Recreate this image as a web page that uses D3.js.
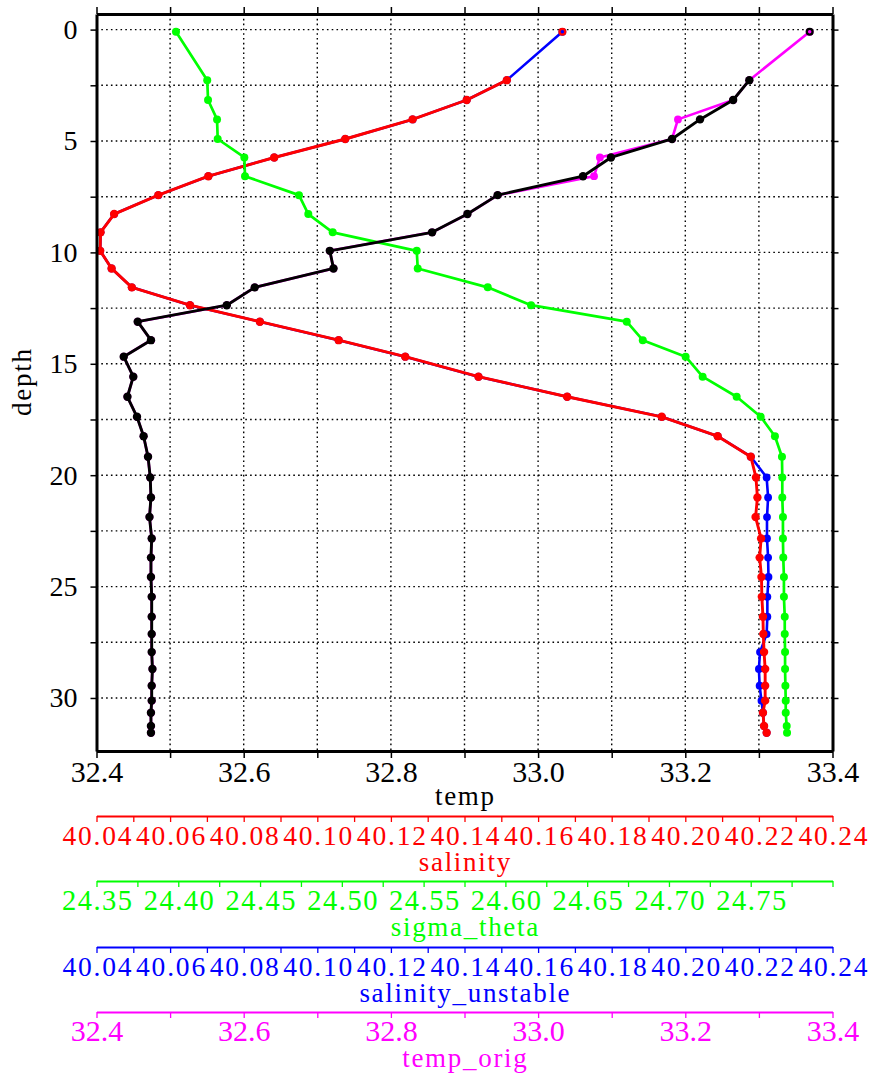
<!DOCTYPE html>
<html>
<head>
<meta charset="utf-8">
<script src="https://cdn.jsdelivr.net/npm/d3@7"></script>
<style>
  html, body { margin: 0; padding: 0; background: #fff; }
  svg { display: block; }
</style>
</head>
<body>
<div id="chart"></div>
<script>
// ---------------- data ----------------
const depth = [0.1, 2.27, 3.16, 4.03, 4.91, 5.74, 6.58, 7.43, 8.28, 9.1,
  9.93, 10.72, 11.57, 12.37, 13.11, 13.94, 14.68, 15.58, 16.48, 17.38,
  18.25, 19.17, 20.1, 21.0, 21.88, 22.84, 23.7, 24.57, 25.46, 26.35,
  27.13, 27.94, 28.7, 29.45, 30.12, 30.66, 31.26, 31.56];

const temp = [33.369, 33.287, 33.265, 33.220, 33.182, 33.099, 33.061, 32.945, 32.904, 32.856,
  32.717, 32.722, 32.615, 32.577, 32.456, 32.474, 32.437, 32.450, 32.442, 32.455,
  32.464, 32.470, 32.473, 32.474, 32.472, 32.475, 32.474, 32.474, 32.475, 32.475,
  32.475, 32.475, 32.476, 32.475, 32.475, 32.474, 32.474, 32.474];

const tempOrig = [33.369, 33.287, 33.265, 33.190, 33.182, 33.084, 33.076, 32.945, 32.904, 32.856,
  32.717, 32.722, 32.615, 32.577, 32.456, 32.474, 32.437, 32.450, 32.442, 32.455,
  32.464, 32.470, 32.473, 32.474, 32.472, 32.475, 32.474, 32.474, 32.475, 32.475,
  32.475, 32.475, 32.476, 32.475, 32.475, 32.474, 32.474, 32.474];

const salinity = [40.1666, 40.1515, 40.1406, 40.1259, 40.1076, 40.0883, 40.0704, 40.0568, 40.0448, 40.0411,
  40.0410, 40.0441, 40.0496, 40.0654, 40.0844, 40.1058, 40.1239, 40.1438, 40.1679, 40.1936,
  40.2088, 40.2178, 40.2192, 40.2196, 40.2191, 40.2206, 40.2202, 40.2207, 40.2208, 40.2211,
  40.2212, 40.2214, 40.2217, 40.2217, 40.2217, 40.2211, 40.2214, 40.2221];

const salinityUnstable = [40.1666, 40.1515, 40.1406, 40.1259, 40.1076, 40.0883, 40.0704, 40.0568, 40.0448, 40.0411,
  40.0410, 40.0441, 40.0496, 40.0654, 40.0844, 40.1058, 40.1239, 40.1438, 40.1679, 40.1936,
  40.2088, 40.2178, 40.2221, 40.2225, 40.2222, 40.2222, 40.2225, 40.2226, 40.2223, 40.2223,
  40.2221, 40.2203, 40.2200, 40.2202, 40.2207, 40.2211, 40.2214, 40.2221];

const sigmaTheta = [24.3986, 24.4177, 24.4182, 24.4237, 24.4241, 24.4404, 24.4408, 24.4738, 24.4795, 24.4944,
  24.5458, 24.5464, 24.5892, 24.6157, 24.6742, 24.6840, 24.7102, 24.7206, 24.7414, 24.7561,
  24.7648, 24.7691, 24.7693, 24.7693, 24.7697, 24.7697, 24.7699, 24.7703, 24.7703, 24.7708,
  24.7708, 24.7710, 24.7710, 24.7712, 24.7714, 24.7714, 24.7720, 24.7722];

// tick values and labels
const depthTicks  = [0, 2.5, 5, 7.5, 10, 12.5, 15, 17.5, 20, 22.5, 25, 27.5, 30];
const depthLabels = ["0", "", "5", "", "10", "", "15", "", "20", "", "25", "", "30"];
const tempTicks   = [32.4, 32.5, 32.6, 32.7, 32.8, 32.9, 33.0, 33.1, 33.2, 33.3, 33.4];
const tempLabels  = ["32.4", "", "32.6", "", "32.8", "", "33.0", "", "33.2", "", "33.4"];
const salTicks    = [40.04, 40.05, 40.06, 40.07, 40.08, 40.09, 40.10, 40.11, 40.12, 40.13, 40.14,
  40.15, 40.16, 40.17, 40.18, 40.19, 40.20, 40.21, 40.22, 40.23, 40.24];
const salLabels   = ["40.04", "", "40.06", "", "40.08", "", "40.10", "", "40.12", "", "40.14",
  "", "40.16", "", "40.18", "", "40.20", "", "40.22", "", "40.24"];
const sigmaTicks  = [24.35, 24.375, 24.40, 24.425, 24.45, 24.475, 24.50, 24.525, 24.55, 24.575,
  24.60, 24.625, 24.65, 24.675, 24.70, 24.725, 24.75, 24.775, 24.80];
const sigmaLabels = ["24.35", "", "24.40", "", "24.45", "", "24.50", "", "24.55", "",
  "24.60", "", "24.65", "", "24.70", "", "24.75", "", ""];

// ---------------- layout ----------------
const W = 869, H = 1074;
const FONT = "'Liberation Serif', 'DejaVu Serif', serif";
const FS = 30;

const svg = d3.select("#chart").append("svg")
  .attr("width", W).attr("height", H);

const xLeft = 96.5, xRight = 832.5, yTop = 14, yBottom = 751;

const xTemp  = d3.scaleLinear().domain([32.4, 33.4]).range([xLeft, xRight]);
const xSal   = d3.scaleLinear().domain([40.04, 40.24]).range([xLeft, xRight]);
const xSigma = d3.scaleLinear().domain([24.35, 24.80]).range([xLeft, xRight]);
const y      = d3.scaleLinear().domain([-0.7, 32.38]).range([yTop, yBottom]);

// gridlines
const grid = svg.append("g");
grid.selectAll("line.v").data(tempTicks.slice(1, -1)).join("line")
  .attr("x1", d => xTemp(d)).attr("x2", d => xTemp(d))
  .attr("y1", yTop).attr("y2", yBottom)
  .attr("stroke", "#000").attr("stroke-width", 1.4)
  .attr("stroke-dasharray", "1.6,3.2");
grid.selectAll("line.h").data(depthTicks).join("line")
  .attr("x1", xLeft).attr("x2", xRight)
  .attr("y1", d => y(d)).attr("y2", d => y(d))
  .attr("stroke", "#000").attr("stroke-width", 1.4)
  .attr("stroke-dasharray", "1.6,3.2");

// ---------------- series ----------------
function drawSeries(xs, vals, color, startAt, lw, r) {
  const pts = vals.map((v, i) => ({ x: xs(v), y: y(depth[i]), i }));
  const line = d3.line().x(d => d.x).y(d => d.y).defined(d => d.i >= startAt);
  const g = svg.append("g");
  g.append("path").datum(pts)
    .attr("d", line)
    .attr("fill", "none").attr("stroke", color)
    .attr("stroke-width", lw).attr("stroke-linejoin", "round");
  g.selectAll("circle.pt").data(pts.filter(d => d.i >= startAt)).join("circle")
    .attr("cx", d => d.x).attr("cy", d => d.y).attr("r", r)
    .attr("fill", color);
  // isolated first point drawn as a ring
  g.selectAll("circle.ring").data(pts.filter(d => d.i < startAt)).join("circle")
    .attr("cx", d => d.x).attr("cy", d => d.y).attr("r", 2.9)
    .attr("fill", "none").attr("stroke", color).attr("stroke-width", 2.3);
}

drawSeries(xSal, salinityUnstable, "#0000ff", 0, 2.6, 3.9);
drawSeries(xTemp, tempOrig, "#ff00ff", 0, 2.6, 3.9);
drawSeries(xSal, salinity, "#ff0000", 1, 2.9, 4.2);
drawSeries(xSigma, sigmaTheta, "#00ff00", 0, 2.7, 4.0);
drawSeries(xTemp, temp, "#000000", 1, 2.9, 4.2);

// ---------------- axes ----------------
function styleAxis(g, color, lineW, tickW, fs, ls) {
  g.attr("font-family", FONT).attr("font-size", fs || FS);
  g.select(".domain").attr("stroke", color).attr("stroke-width", lineW);
  g.selectAll(".tick line").attr("stroke", color).attr("stroke-width", tickW);
  g.selectAll(".tick text").attr("fill", color);
  if (ls) g.selectAll(".tick text").attr("letter-spacing", ls).attr("dx", ls / 2);
}

// left
const gLeft = svg.append("g").attr("transform", `translate(${xLeft},0)`)
  .call(d3.axisLeft(y).tickValues(depthTicks).tickSize(6).tickSizeOuter(0).tickPadding(13)
    .tickFormat((d, i) => depthLabels[i]));
styleAxis(gLeft, "#000", 3, 1.5, 28);

// right
const gRight = svg.append("g").attr("transform", `translate(${xRight},0)`)
  .call(d3.axisRight(y).tickValues(depthTicks).tickSize(6).tickSizeOuter(0).tickFormat(""));
styleAxis(gRight, "#000", 3, 1.5);

// top
const gTop = svg.append("g").attr("transform", `translate(0,${yTop})`)
  .call(d3.axisTop(xTemp).tickValues(tempTicks).tickSize(7).tickSizeOuter(0).tickFormat(""));
styleAxis(gTop, "#000", 3, 1.5);

// bottom (temp)
const gBottom = svg.append("g").attr("transform", `translate(0,${yBottom})`)
  .call(d3.axisBottom(xTemp).tickValues(tempTicks).tickSize(7).tickSizeOuter(0).tickPadding(3)
    .tickFormat((d, i) => tempLabels[i]));
styleAxis(gBottom, "#000", 3, 1.5);

const TFS = 27, TLS = 1.7;
function title(x, yPos, color, txt, rotate) {
  const t = svg.append("text")
    .attr("text-anchor", "middle")
    .attr("font-family", FONT).attr("font-size", TFS)
    .attr("letter-spacing", TLS).attr("dx", TLS / 2)
    .attr("fill", color).text(txt);
  if (rotate) t.attr("transform", `translate(${x},${yPos}) rotate(-90)`);
  else t.attr("x", x).attr("y", yPos);
}

// extra axes
function extraAxis(scale, ticks, labels, color, yPos, txt, fs, ls) {
  const g = svg.append("g").attr("transform", `translate(0,${yPos})`)
    .call(d3.axisBottom(scale).tickValues(ticks).tickSize(6).tickSizeOuter(0).tickPadding(fs ? 3 : 2)
      .tickFormat((d, i) => labels[i]));
  styleAxis(g, color, 2, 1.3, fs, ls);
  title((xLeft + xRight) / 2, yPos + 54.5, color, txt);
}

title((xLeft + xRight) / 2, 805, "#000", "temp");

extraAxis(xSal, salTicks, salLabels, "#ff0000", 816, "salinity", 27.5, 1.8);
extraAxis(xSigma, sigmaTicks, sigmaLabels, "#00ff00", 881, "sigma_theta", 28.5, 1.5);
extraAxis(xSal, salTicks, salLabels, "#0000ff", 947, "salinity_unstable", 27.5, 1.8);
extraAxis(xTemp, tempTicks, tempLabels, "#ff00ff", 1012, "temp_orig");

// y-axis title
title(31, (yTop + yBottom) / 2, "#000", "depth", true);
</script>
</body>
</html>
